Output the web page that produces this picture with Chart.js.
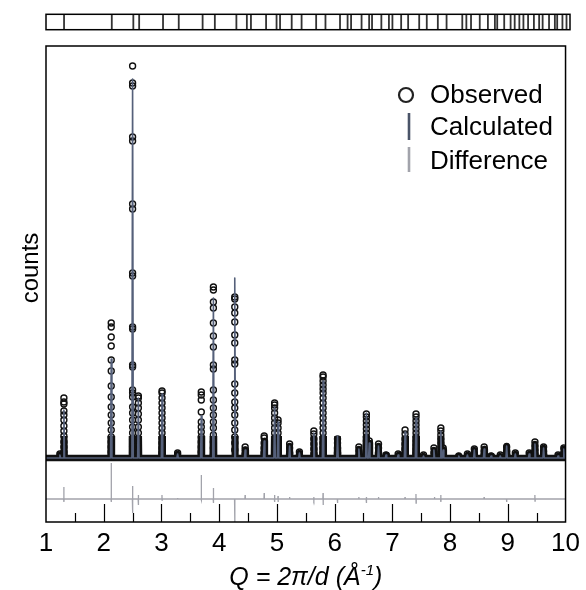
<!DOCTYPE html>
<html>
<head>
<meta charset="utf-8">
<script src="https://cdn.jsdelivr.net/npm/chart.js@4"></script>
<style>
  html, body { margin: 0; padding: 0; background: #fff; }
  #wrap { position: relative; width: 586px; height: 590px; }
  #mainChart, #tickChart { position: absolute; left: 0; top: 0; }
</style>
</head>
<body>
<div id="wrap">
  <canvas id="mainChart" width="586" height="590"></canvas>
  <canvas id="tickChart" width="586" height="44"></canvas>
</div>
<script>
(function () {
  const FONT = "'Liberation Sans', Arial, Helvetica, sans-serif";

  // Q range and axis ticks
  const qRange = [1, 10];
  const majorTickQ = [2, 3, 4, 5, 6, 7, 8, 9];
  const minorTickQ = [1.5, 2.5, 3.5, 4.5, 5.5, 6.5, 7.5, 8.5, 9.5];

  // reflection positions (top strip)
  const reflectionQ = [
    1.31, 2.13, 2.50, 2.60, 3.01, 3.28, 3.69, 3.90, 4.27, 4.45, 4.52, 4.78, 4.96, 5.02,
    5.22, 5.39, 5.64, 5.80, 6.05, 6.18, 6.24, 6.42, 6.55, 6.60, 6.76, 6.89, 6.95, 7.10,
    7.22, 7.41, 7.54, 7.73, 7.88, 8.15, 8.22, 8.30, 8.45, 8.59, 8.71, 8.75, 8.87, 8.98,
    9.05, 9.13, 9.20, 9.28, 9.38, 9.47, 9.53, 9.64, 9.74, 9.78, 9.87, 9.94
  ];

  // calculated peaks (counts above background)
  const peakQ = [
    1.24, 1.31, 2.13, 2.50, 2.60, 3.01, 3.28, 3.69, 3.90, 4.27, 4.45, 4.78, 4.96, 5.02,
    5.22, 5.39, 5.64, 5.80, 6.05, 6.42, 6.55, 6.60, 6.76, 6.89, 7.10, 7.22, 7.41, 7.54,
    7.72, 7.84, 7.88, 8.15, 8.30, 8.42, 8.59, 8.71, 8.87, 8.98, 9.13, 9.37, 9.47, 9.62,
    9.87, 9.97
  ];
  const calcCounts = [
    3, 48, 99, 379, 60, 64, 4, 42, 160, 180, 8, 17, 51, 36,
    12, 5, 25, 77, 22, 9, 45, 15, 12, 3, 3, 26, 40, 2,
    8, 27, 8, 2, 3, 8, 9, 2, 2, 12, 4, 4, 14, 10,
    2, 9
  ];

  // observed points, one list per peak (same order as peakQ)
  const obsCounts = [
    [4],
    [60, 56, 54, 47, 43, 38, 32, 27, 22, 16, 11, 6, 2],
    [135, 131, 121, 112, 98, 87, 72, 61, 51, 43, 35, 28, 21, 16, 11, 6],
    [392, 375, 372, 321, 317, 254, 249, 185, 182, 131, 129, 93, 91, 68, 65, 61, 51, 45, 38, 31, 25, 18, 11, 5],
    [62, 60, 55, 50, 44, 38, 31, 25, 18, 11, 5],
    [67, 65, 60, 55, 50, 45, 40, 35, 30, 25, 20, 15, 10, 5],
    [5, 3],
    [66, 63, 58, 46, 36, 31, 26, 21, 16, 11, 6],
    [171, 168, 156, 150, 135, 122, 111, 93, 89, 68, 58, 50, 43, 36, 30, 23, 16, 10, 3],
    [161, 159, 151, 145, 136, 123, 115, 98, 94, 74, 65, 56, 50, 43, 35, 28, 21, 15, 8],
    [11, 8, 4],
    [22, 20, 15, 10, 5],
    [55, 53, 50, 45, 40, 35, 30, 25, 20, 15, 10, 5],
    [38, 35, 30, 25, 20, 15, 10, 5],
    [14, 10, 5],
    [6, 3],
    [27, 24, 19, 14, 9, 4],
    [83, 81, 77, 73, 69, 65, 60, 55, 50, 45, 40, 35, 30, 25, 20, 15, 10, 5],
    [19, 15, 10, 5],
    [11, 7, 3],
    [44, 41, 37, 33, 29, 25, 21, 17, 13, 9, 5],
    [17, 12, 7],
    [14, 10, 5],
    [3],
    [4],
    [28, 24, 19, 14, 9, 4],
    [44, 41, 37, 33, 29, 25, 21, 17, 13, 9, 5],
    [3],
    [10, 5],
    [30, 27, 23, 19, 15, 11, 7, 3],
    [10, 5],
    [2],
    [4],
    [9, 5],
    [11, 7, 3],
    [2],
    [3],
    [11, 7, 3],
    [5],
    [5],
    [16, 12, 8, 4],
    [11, 7, 3],
    [3],
    [10, 5]
  ];

  // difference curve spikes (obs - calc), plotted below the pattern
  const diffOffset = -41;
  const diffQ = [1.31, 2.13, 2.50, 2.60, 3.01, 3.28, 3.69, 3.90, 4.27, 4.45, 4.78, 4.96, 5.02, 5.22,
    5.64, 5.80, 6.05, 6.42, 6.55, 6.76, 7.22, 7.41, 7.73, 7.84, 8.59, 8.98, 9.47];
  const diffUp = [12, 36, 13, 4, 4, 1, 24, 11, 0, 4, 6, 4, 3, 2, 2, 6, 0, 2, 2, 2, 2, 5, 2, 4, 2, 0, 4];
  const diffDown = [3, 3, 14, 6, 1, 0, 1, 4, 23, 0, 0, 3, 3, 0, 1, 6, 4, 0, 4, 0, 0, 4, 0, 3, 0, 3, 2];

  const yRange = [-64, 412];
  const haloCap = 22;
  const peakHalfWidth = 0.012;

  // tables for the library
  const calcPoints = [{ x: qRange[0], y: 0 }];
  peakQ.forEach((q, i) => {
    calcPoints.push({ x: q - peakHalfWidth, y: 0 }, { x: q, y: calcCounts[i] }, { x: q + peakHalfWidth, y: 0 });
  });
  calcPoints.push({ x: qRange[1], y: 0 });

  const obsPoints = [];
  peakQ.forEach((q, i) => {
    obsCounts[i].forEach((c) => obsPoints.push({ x: q, y: c }));
  });

  const diffPoints = [{ x: qRange[0], y: diffOffset }];
  diffQ.forEach((q, i) => {
    diffPoints.push(
      { x: q - 0.004, y: diffOffset },
      { x: q - 0.001, y: diffOffset + diffUp[i] },
      { x: q + 0.001, y: diffOffset - diffDown[i] },
      { x: q + 0.004, y: diffOffset }
    );
  });
  diffPoints.push({ x: qRange[1], y: diffOffset });

  const CALC_COLOR = '#55607a';
  const DIFF_COLOR = '#a2a3ab';

  const haloClip = {
    id: 'haloClip',
    beforeDatasetDraw(chart, args) {
      if (args.index !== 2) return;
      const { ctx, chartArea, scales } = chart;
      const yTop = scales.y.getPixelForValue(haloCap);
      ctx.save();
      ctx.beginPath();
      ctx.rect(chartArea.left, yTop, chartArea.right - chartArea.left, chartArea.bottom - yTop);
      ctx.clip();
    },
    afterDatasetDraw(chart, args) {
      if (args.index !== 2) return;
      chart.ctx.restore();
    },
  };

  const decorations = {
    id: 'decorations',
    afterDraw(chart) {
      const { ctx, chartArea: a, scales: { x } } = chart;
      ctx.save();
      ctx.strokeStyle = '#000';
      ctx.lineWidth = 1.2;
      majorTickQ.forEach((q) => {
        const px = Math.round(x.getPixelForValue(q)) + 0.5;
        ctx.beginPath(); ctx.moveTo(px, a.bottom); ctx.lineTo(px, a.bottom - 18); ctx.stroke();
      });
      minorTickQ.forEach((q) => {
        const px = Math.round(x.getPixelForValue(q)) + 0.5;
        ctx.beginPath(); ctx.moveTo(px, a.bottom); ctx.lineTo(px, a.bottom - 9); ctx.stroke();
      });
      ctx.lineWidth = 1.5;
      ctx.strokeRect(a.left, a.top, a.right - a.left, a.bottom - a.top);

      // legend
      ctx.fillStyle = '#000';
      ctx.font = `26px ${FONT}`;
      ctx.textBaseline = 'middle';
      ctx.textAlign = 'left';
      ctx.lineWidth = 2.2;
      ctx.strokeStyle = '#222';
      ctx.beginPath(); ctx.arc(406, 95, 7, 0, Math.PI * 2); ctx.stroke();
      ctx.fillText('Observed', 430, 96);
      ctx.strokeStyle = '#4a5468';
      ctx.lineWidth = 2.6;
      ctx.beginPath(); ctx.moveTo(409, 113); ctx.lineTo(409, 140); ctx.stroke();
      ctx.fillText('Calculated', 430, 128);
      ctx.strokeStyle = DIFF_COLOR;
      ctx.beginPath(); ctx.moveTo(409, 147); ctx.lineTo(409, 172); ctx.stroke();
      ctx.fillText('Difference', 430, 162);

      // y axis title
      ctx.save();
      ctx.translate(31, 268);
      ctx.rotate(-Math.PI / 2);
      ctx.textAlign = 'center';
      ctx.font = `24px ${FONT}`;
      ctx.fillText('counts', 0, 0);
      ctx.restore();

      // x axis title with superscript
      ctx.font = `italic 25px ${FONT}`;
      ctx.textBaseline = 'alphabetic';
      const main = 'Q = 2\u03c0/d (\u00c5';
      const sup = '-1';
      const tail = ')';
      const wMain = ctx.measureText(main).width;
      const wTail = ctx.measureText(tail).width;
      ctx.font = `italic 15px ${FONT}`;
      const wSup = ctx.measureText(sup).width;
      const total = wMain + wSup + wTail;
      let sx = (a.left + a.right) / 2 - total / 2;
      const by = 585;
      ctx.font = `italic 25px ${FONT}`;
      ctx.fillText(main, sx, by);
      sx += wMain;
      ctx.font = `italic 15px ${FONT}`;
      ctx.fillText(sup, sx, by - 10);
      sx += wSup;
      ctx.font = `italic 25px ${FONT}`;
      ctx.fillText(tail, sx, by);
      ctx.restore();
    },
  };

  new Chart(document.getElementById('mainChart'), {
    type: 'scatter',
    data: {
      datasets: [
        {
          label: 'Calculated',
          data: calcPoints,
          showLine: true,
          borderColor: CALC_COLOR,
          borderWidth: 1.6,
          borderJoinStyle: 'round',
          pointRadius: 0,
        },
        {
          label: 'Observed',
          data: obsPoints,
          showLine: false,
          pointStyle: 'circle',
          pointRadius: 3,
          borderWidth: 1.4,
          borderColor: '#111',
          backgroundColor: 'rgba(255,255,255,0)',
        },
        {
          label: 'Observed profile',
          data: calcPoints,
          showLine: true,
          borderColor: '#111',
          borderWidth: 6.5,
          borderJoinStyle: 'round',
          borderCapStyle: 'round',
          pointRadius: 0,
        },
        {
          label: 'Difference',
          data: diffPoints,
          showLine: true,
          borderColor: DIFF_COLOR,
          borderWidth: 1.3,
          pointRadius: 0,
        },
      ],
    },
    options: {
      responsive: false,
      animation: false,
      events: [],
      layout: { padding: { top: 46, right: 16, left: 0, bottom: 0 } },
      plugins: { legend: { display: false }, tooltip: { enabled: false } },
      scales: {
        x: {
          type: 'linear',
          min: qRange[0],
          max: qRange[1],
          grid: { display: false, drawTicks: false },
          border: { display: false },
          ticks: { stepSize: 1, padding: 6, color: '#000', font: { family: FONT, size: 26 } },
          afterFit(scale) { scale.height = 68; },
        },
        y: {
          min: yRange[0],
          max: yRange[1],
          grid: { display: false, drawTicks: false },
          border: { display: false },
          ticks: { display: false },
          afterFit(scale) { scale.width = 46; },
        },
      },
    },
    plugins: [haloClip, decorations],
  });

  // reflection marker strip
  const stripFrame = {
    id: 'stripFrame',
    afterDraw(chart) {
      const { ctx, chartArea: a } = chart;
      ctx.save();
      ctx.strokeStyle = '#000';
      ctx.lineWidth = 1.5;
      ctx.strokeRect(a.left, a.top, a.right - a.left, a.bottom - a.top);
      ctx.restore();
    },
  };

  new Chart(document.getElementById('tickChart'), {
    type: 'scatter',
    data: {
      datasets: [{
        label: 'Reflections',
        data: reflectionQ.map((q) => ({ x: q, y: 0.5 })),
        pointStyle: 'line',
        rotation: 90,
        pointRadius: 12.5,
        borderWidth: 1.8,
        borderColor: '#333',
      }],
    },
    options: {
      responsive: false,
      animation: false,
      events: [],
      layout: { padding: { top: 12, bottom: 7, left: 46, right: 16 } },
      plugins: { legend: { display: false }, tooltip: { enabled: false } },
      scales: {
        x: { type: 'linear', min: qRange[0], max: qRange[1], display: false },
        y: { min: 0, max: 1, display: false },
      },
    },
    plugins: [stripFrame],
  });
})();
</script>
</body>
</html>
